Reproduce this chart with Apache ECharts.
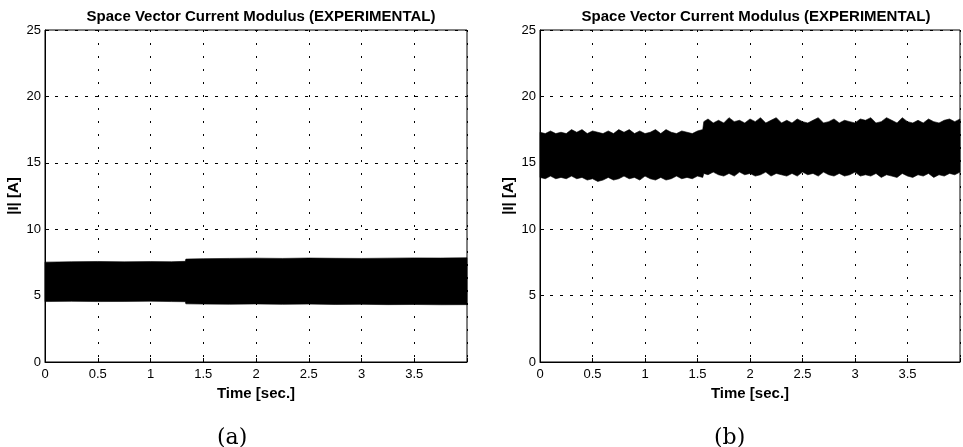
<!DOCTYPE html>
<html>
<head>
<meta charset="utf-8">
<script src="https://cdn.jsdelivr.net/npm/echarts@6/dist/echarts.min.js"></script>
<style>
html,body{margin:0;padding:0;background:#fff;}
#chart{width:963px;height:447px;}
</style>
</head>
<body>
<div id="chart"></div>
<script>
// ---- Data ----
const titleText = 'Space Vector Current Modulus (EXPERIMENTAL)';
const xTicks = [0, 0.5, 1, 1.5, 2, 2.5, 3, 3.5];
const yTicks = [0, 5, 10, 15, 20, 25];

// Panel (a): envelope of the current modulus band
const timeA = [0, 0.25, 0.5, 0.75, 1.0, 1.2, 1.33, 1.335, 1.5, 1.75, 2, 2.25, 2.5, 2.75, 3, 3.25, 3.5, 3.75, 4.0];
const upperA = [7.52, 7.55, 7.57, 7.54, 7.56, 7.55, 7.58, 7.75, 7.78, 7.8, 7.82, 7.8, 7.83, 7.81, 7.8, 7.82, 7.84, 7.83, 7.85];
const lowerA = [4.55, 4.57, 4.55, 4.56, 4.58, 4.55, 4.54, 4.38, 4.36, 4.35, 4.37, 4.34, 4.36, 4.33, 4.34, 4.32, 4.33, 4.31, 4.32];

// Panel (b): envelope of the current modulus band
const timeB = [0, 0.05, 0.1, 0.15, 0.2, 0.25, 0.3, 0.35, 0.4, 0.45, 0.5, 0.55, 0.6, 0.65, 0.7, 0.75,
  0.8, 0.85, 0.9, 0.95, 1.0, 1.05, 1.1, 1.15, 1.2, 1.25, 1.3, 1.35, 1.4, 1.45, 1.5, 1.55,
  1.56, 1.6, 1.65, 1.7, 1.75, 1.8, 1.85, 1.9, 1.95, 2.0, 2.05, 2.1, 2.15, 2.2, 2.25, 2.3, 2.35,
  2.4, 2.45, 2.5, 2.55, 2.6, 2.65, 2.7, 2.75, 2.8, 2.85, 2.9, 2.95, 3.0, 3.05, 3.1, 3.15, 3.2,
  3.25, 3.3, 3.35, 3.4, 3.45, 3.5, 3.55, 3.6, 3.65, 3.7, 3.75, 3.8, 3.85, 3.9, 3.95, 4.0];
const upperB = [17.3, 17.2, 17.4, 17.2, 17.3, 17.2, 17.5, 17.3, 17.5, 17.2, 17.4, 17.3, 17.2, 17.4, 17.2, 17.5,
  17.3, 17.5, 17.2, 17.4, 17.2, 17.3, 17.5, 17.2, 17.5, 17.3, 17.2, 17.4, 17.3, 17.2, 17.4, 17.5,
  18.1, 18.3, 18.0, 18.2, 18.0, 18.4, 18.1, 18.2, 18.0, 18.3, 18.1, 18.4, 18.0, 18.2, 18.4, 18.0, 18.2,
  18.0, 18.3, 18.1, 18.0, 18.2, 18.4, 18.0, 18.1, 18.3, 18.0, 18.2, 18.1, 18.0, 18.3, 18.2, 18.4, 18.0,
  18.1, 18.4, 18.2, 18.0, 18.4, 18.1, 18.0, 18.2, 18.0, 18.3, 18.1, 18.0, 18.2, 18.3, 18.1, 18.3];
const lowerB = [13.9, 13.8, 14.0, 13.8, 13.9, 13.8, 14.0, 13.8, 13.9, 13.7, 13.8, 13.6, 13.7, 13.9, 13.7, 13.8,
  14.0, 13.8, 13.9, 13.7, 14.0, 13.8, 13.7, 13.9, 13.7, 13.8, 14.0, 13.8, 13.9, 13.8, 14.0, 13.9,
  14.2, 14.1, 14.3, 14.1, 14.0, 14.2, 14.0, 14.3, 14.1, 14.2, 14.0, 14.1, 14.3, 14.0, 14.2, 14.1, 14.0,
  14.2, 14.0, 14.3, 14.1, 14.2, 14.0, 14.3, 14.1, 14.0, 14.2, 14.0, 14.1, 14.3, 14.0, 14.1, 14.0, 14.2,
  13.9, 14.1, 14.0, 13.9, 14.2, 14.0, 13.9, 14.1, 14.0, 14.2, 13.9, 14.1, 14.0, 14.2, 14.1, 14.3];

// ---- Chart ----
const sansFont = '"Liberation Sans", Arial, Helvetica, sans-serif';
const serifFont = '"DejaVu Serif", "Liberation Serif", serif';

const grids = [
  { left: 45, right: 496, top: 30, bottom: 85 },
  { left: 540, right: 1, top: 30, bottom: 85 }
];

function xAxisFor(i) {
  return {
    type: 'value', gridIndex: i, min: 0, max: 4, interval: 0.5,
    name: 'Time [sec.]', nameLocation: 'middle', nameGap: 20,
    nameTextStyle: { fontFamily: sansFont, fontWeight: 'bold', fontSize: 15, color: '#000' },
    axisLine: { show: true, onZero: false, lineStyle: { color: '#000', width: 1 } },
    axisTick: { show: true, inside: true, length: 4, lineStyle: { color: '#000' } },
    axisLabel: {
      color: '#000', fontFamily: sansFont, fontSize: 13, margin: 6,
      formatter: v => (xTicks.indexOf(v) >= 0 ? String(v) : '')
    },
    splitLine: { show: true, lineStyle: { color: '#000', width: 1, type: [2, 11] } }
  };
}
function yAxisFor(i) {
  return {
    type: 'value', gridIndex: i, min: 0, max: 25, interval: 5,
    name: '|I| [A]', nameLocation: 'middle', nameGap: 24, nameRotate: 90,
    nameTextStyle: { fontFamily: sansFont, fontWeight: 'bold', fontSize: 15, color: '#000' },
    axisLine: { show: true, onZero: false, lineStyle: { color: '#000', width: 1 } },
    axisTick: { show: true, inside: true, length: 4, lineStyle: { color: '#000' } },
    axisLabel: {
      color: '#000', fontFamily: sansFont, fontSize: 13, margin: 4,
      formatter: v => (yTicks.indexOf(v) >= 0 ? String(v) : '')
    },
    splitLine: { show: true, lineStyle: { color: '#000', width: 1, type: [3, 7] } }
  };
}

// Filled band between lower and upper envelope, positioned through the axes' scales.
function bandSeries(i, t, up, lo) {
  const rows = t.map((x, k) => [x, up[k], lo[k]]);
  return {
    type: 'custom', xAxisIndex: i, yAxisIndex: i, silent: true, z: 3,
    data: rows,
    encode: { x: 0, y: [1, 2] },
    renderItem: function (params, api) {
      if (params.dataIndex !== 0) return null;
      const pts = [];
      for (let k = 0; k < rows.length; k++) pts.push(api.coord([rows[k][0], rows[k][1]]));
      for (let k = rows.length - 1; k >= 0; k--) pts.push(api.coord([rows[k][0], rows[k][2]]));
      return {
        type: 'polygon',
        shape: { points: pts },
        style: { fill: '#000', stroke: '#000', lineWidth: 0.6 }
      };
    }
  };
}

const chart = echarts.init(document.getElementById('chart'), null, { renderer: 'canvas' });
chart.setOption({
  animation: false,
  backgroundColor: '#fff',
  title: [
    { text: titleText, left: 256, top: 4, textAlign: 'center',
      textStyle: { fontFamily: sansFont, fontWeight: 'bold', fontSize: 15, color: '#000' } },
    { text: titleText, left: 751, top: 4, textAlign: 'center',
      textStyle: { fontFamily: sansFont, fontWeight: 'bold', fontSize: 15, color: '#000' } }
  ],
  grid: grids.map(g => Object.assign({ show: true, borderColor: '#000', borderWidth: 1, backgroundColor: 'transparent' }, g)),
  xAxis: [xAxisFor(0), xAxisFor(1)],
  yAxis: [yAxisFor(0), yAxisFor(1)],
  series: [bandSeries(0, timeA, upperA, lowerA), bandSeries(1, timeB, upperB, lowerB)],
  graphic: [
    { type: 'text', left: 217, top: 427, style: { text: '(a)', font: '22px ' + serifFont, fill: '#000' } },
    { type: 'text', left: 714, top: 427, style: { text: '(b)', font: '22px ' + serifFont, fill: '#000' } }
  ]
});
</script>
</body>
</html>
